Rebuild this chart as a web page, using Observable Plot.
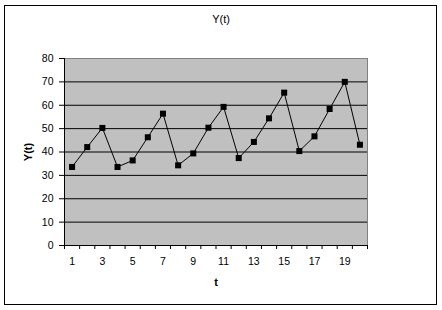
<!DOCTYPE html>
<html>
<head>
<meta charset="utf-8">
<script src="https://cdn.jsdelivr.net/npm/d3@7"></script>
<script src="https://cdn.jsdelivr.net/npm/@observablehq/plot@0.6"></script>
<style>
  html, body { margin: 0; padding: 0; background: #fff; }
  #wrap { position: relative; width: 442px; height: 310px; font-family: "Liberation Sans", Arial, sans-serif; }
  #border { position: absolute; left: 4px; top: 5px; width: 431px; height: 298px; border: 1px solid #000; pointer-events: none; }
  #title { position: absolute; left: 0; width: 442px; top: 13px; text-align: center; font-size: 11px; color: #000; }
  #chart { position: absolute; left: 0; top: 0; }
</style>
</head>
<body>
<div id="wrap">
  <div id="chart"></div>
  <div id="border"></div>
  <div id="title">Y(t)</div>
</div>
<script>
const t = [1, 2, 3, 4, 5, 6, 7, 8, 9, 10, 11, 12, 13, 14, 15, 16, 17, 18, 19, 20];
const y = [33.6, 42.1, 50.3, 33.6, 36.4, 46.3, 56.4, 34.3, 39.4, 50.4, 59.3, 37.4, 44.3, 54.4, 65.4, 40.4, 46.7, 58.4, 70.0, 43.1];
const xTickLabels = [1, 3, 5, 7, 9, 11, 13, 15, 17, 19];
const xTickMarks = [0.5, 1.5, 2.5, 3.5, 4.5, 5.5, 6.5, 7.5, 8.5, 9.5, 10.5, 11.5, 12.5, 13.5, 14.5, 15.5, 16.5, 17.5, 18.5, 19.5, 20.5];
const yTicks = [0, 10, 20, 30, 40, 50, 60, 70, 80];
const gridLines = [10, 20, 30, 40, 50, 60, 70];

const data = t.map((d, i) => ({t: d, y: y[i]}));

const chart = Plot.plot({
  width: 442,
  height: 310,
  marginLeft: 64,
  marginRight: 75,
  marginTop: 58,
  marginBottom: 65,
  style: {fontFamily: "'Liberation Sans', Arial, sans-serif", fontSize: "10.5px", color: "#000", background: "transparent"},
  x: {domain: [0.5, 20.5]},
  y: {domain: [0, 80]},
  marks: [
    Plot.frame({fill: "#c0c0c0", stroke: "#808080"}),
    Plot.gridY(gridLines, {stroke: "#000", strokeOpacity: 1}),
    Plot.axisY(yTicks, {tickSize: 5, tickPadding: 6, stroke: "#000", label: "Y(t)", labelAnchor: "center", labelArrow: "none", labelOffset: 40, fontWeight: "normal"}),
    Plot.axisX(xTickMarks, {tickSize: 4, tickFormat: () => "", label: null}),
    Plot.axisX(xTickLabels, {tickSize: 0, tickPadding: 12, label: "t", labelAnchor: "center", labelArrow: "none", labelOffset: 40}),
    Plot.ruleY([0], {stroke: "#000"}),
    Plot.ruleX([0.5], {stroke: "#000"}),
    Plot.line(data, {x: "t", y: "y", stroke: "#000", strokeWidth: 1}),
    Plot.dot(data, {x: "t", y: "y", symbol: "square", r: 3.4, fill: "#000", stroke: "none"})
  ]
});

// bold axis titles
chart.querySelectorAll("g[aria-label='x-axis label'] text, g[aria-label='y-axis label'] text").forEach(el => {
  el.setAttribute("font-weight", "bold");
  el.setAttribute("font-size", "11px");
});

document.getElementById("chart").appendChild(chart);
</script>
</body>
</html>
